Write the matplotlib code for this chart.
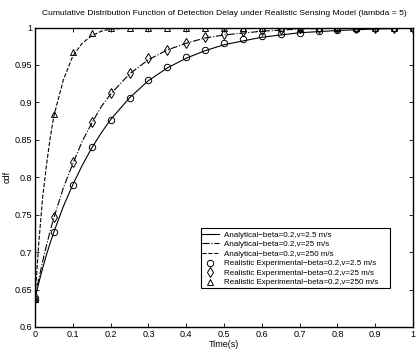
import matplotlib
matplotlib.use("Agg")
import matplotlib.pyplot as plt
from matplotlib.patches import Rectangle

# Marker (experimental) data
t_exp = [0, 0.05, 0.1, 0.15, 0.2, 0.25, 0.3, 0.35, 0.4, 0.45, 0.5,
         0.55, 0.6, 0.65, 0.7, 0.75, 0.8, 0.85, 0.9, 0.95, 1.0]
exp_v2_5 = [0.638, 0.727, 0.790, 0.840, 0.877, 0.906, 0.930, 0.947, 0.961, 0.970, 0.979,
            0.985, 0.989, 0.991, 0.993, 0.995, 0.997, 0.998, 0.999, 0.999, 0.999]
exp_v25 = [0.640, 0.747, 0.820, 0.874, 0.913, 0.939, 0.959, 0.970, 0.979, 0.987, 0.991,
           0.995, 0.997, 0.998, 0.999, 0.999, 1.0, 1.0, 1.0, 1.0, 1.0]
exp_v250 = [0.638, 0.885, 0.967, 0.993, 0.999, 1.0, 1.0, 1.0, 1.0, 1.0, 1.0,
            1.0, 1.0, 1.0, 1.0, 1.0, 1.0, 1.0, 1.0, 1.0, 1.0]

# Analytical curves
t_line = [0, 0.01, 0.02, 0.03, 0.04, 0.05, 0.075, 0.1, 0.125, 0.15, 0.175, 0.2,
          0.25, 0.3, 0.35, 0.4, 0.45, 0.5, 0.6, 0.7, 0.8, 0.9, 1.0]
ana_v2_5 = [0.638, 0.659, 0.678, 0.696, 0.712, 0.727, 0.761, 0.790, 0.816, 0.839, 0.859, 0.877,
            0.906, 0.929, 0.946, 0.959, 0.969, 0.977, 0.987, 0.993, 0.996, 0.998, 0.999]
ana_v25 = [0.640, 0.664, 0.687, 0.708, 0.728, 0.746, 0.786, 0.818, 0.848, 0.872, 0.894, 0.911,
           0.938, 0.957, 0.970, 0.979, 0.986, 0.990, 0.995, 0.998, 0.999, 1.0, 1.0]
ana_v250 = [0.638, 0.712, 0.772, 0.815, 0.852, 0.882, 0.930, 0.962, 0.979, 0.989, 0.995, 0.998,
            0.999, 1.0, 1.0, 1.0, 1.0, 1.0, 1.0, 1.0, 1.0, 1.0, 1.0]

labels = ["Analytical\u2212beta=0.2,v=2.5 m/s",
          "Analytical\u2212beta=0.2,v=25 m/s",
          "Analytical\u2212beta=0.2,v=250 m/s",
          "Realistic Experimental\u2212beta=0.2,v=2.5 m/s",
          "Realistic Experimental\u2212beta=0.2,v=25 m/s",
          "Realistic Experimental\u2212beta=0.2,v=250 m/s"]

plt.rcParams['font.family'] = ['Liberation Sans', 'DejaVu Sans']

fig = plt.figure(figsize=(4.16, 3.49), dpi=100)
AX_L, AX_R, AX_T, AX_B = 35, 413, 27.5, 327
AW, AH = AX_R - AX_L, AX_B - AX_T
ax = fig.add_axes([AX_L/416, 1 - AX_B/349, AW/416, AH/349])

lw = 0.8
ax.plot(t_line, ana_v2_5, '-', color='black', lw=lw, label=labels[0])
ax.plot(t_line, ana_v25, '-.', color='black', lw=lw, label=labels[1])
ax.plot(t_line, ana_v250, '--', color='black', lw=lw, label=labels[2])
ms = 4.6
ax.plot(t_exp, exp_v2_5, 'o', mfc='none', mec='black', ms=ms, mew=0.7, label=labels[3])
ax.plot(t_exp, exp_v25, 'd', mfc='none', mec='black', ms=ms * 1.05, mew=0.7, label=labels[4])
ax.plot(t_exp, exp_v250, '^', mfc='none', mec='black', ms=ms, mew=0.7, label=labels[5])

ax.set_xlim(0, 1)
ax.set_ylim(0.6, 1.0)
ax.set_xticks([0, 0.1, 0.2, 0.3, 0.4, 0.5, 0.6, 0.7, 0.8, 0.9, 1])
ax.set_xticklabels(['0', '0.1', '0.2', '0.3', '0.4', '0.5', '0.6', '0.7', '0.8', '0.9', '1'])
ax.set_yticks([0.6, 0.65, 0.7, 0.75, 0.8, 0.85, 0.9, 0.95, 1])
ax.set_yticklabels(['0.6', '0.65', '0.7', '0.75', '0.8', '0.85', '0.9', '0.95', '1'])
ax.tick_params(direction='in', length=3, width=0.6, labelsize=6.5, pad=2,
               top=True, right=True)
for s in ax.spines.values():
    s.set_linewidth(1.0)

ax.set_xlabel('Time(s)', fontsize=6.5, labelpad=1)
ax.set_ylabel('cdf', fontsize=6.5, labelpad=2)
ax.set_title('Cumulative Distribution Function of Detection Delay under Realistic Sensing Model (lambda = 5)',
             fontsize=6.1, pad=9)

# legend frame (MATLAB style, extra space on the right)
box_l, box_r, box_t, box_b = 201, 390, 228, 288
frame = Rectangle(((box_l - AX_L) / AW, (AX_B - box_b) / AH),
                  (box_r - box_l) / AW, (box_b - box_t) / AH,
                  transform=ax.transAxes, facecolor='white', edgecolor='black',
                  lw=0.8, zorder=4)
ax.add_patch(frame)

leg = ax.legend(loc='upper left', bbox_to_anchor=((box_l + 1 - AX_L) / AW, (AX_B - box_t - 3) / AH),
                fontsize=5.8, frameon=False,
                borderpad=0, labelspacing=0.24, handlelength=2.1, handletextpad=0.6,
                borderaxespad=0)
leg.set_zorder(5)

fig.savefig('out.png', dpi=100)
